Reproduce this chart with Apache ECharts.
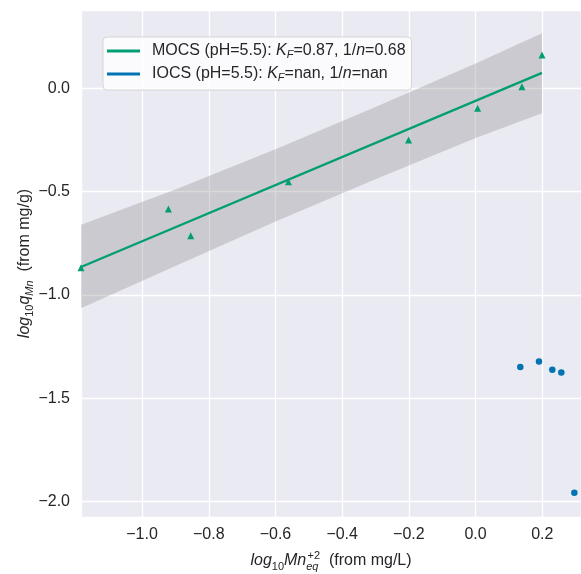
<!DOCTYPE html>
<html>
<head>
<meta charset="utf-8">
<script src="https://cdn.jsdelivr.net/npm/echarts@6/dist/echarts.min.js"></script>
<style>
  html, body { margin: 0; padding: 0; background: #ffffff; }
  #chart { width: 581px; height: 574px; }
</style>
</head>
<body>
<div id="chart"></div>
<script>
// Freundlich isotherm, log-log form: log10 q vs log10 Ce
var mocsX = [-1.183, -0.921, -0.854, -0.561, -0.201, 0.006, 0.139, 0.199];
var mocsY = [-0.868, -0.584, -0.714, -0.452, -0.250, -0.097, 0.008, 0.161];

var iocsX = [0.134, 0.190, 0.230, 0.257, 0.296];
var iocsY = [-1.349, -1.322, -1.362, -1.375, -1.958];

// Fit parameters shown in the legend
var mocsKF = 0.87;
var mocsInvN = 0.68;
var iocsKF = 'nan';
var iocsInvN = 'nan';

// 95% confidence band around the MOCS fit
var bandX = [-1.183, -0.9, -0.6, -0.3, 0.0, 0.199];
var bandUpper = [-0.661, -0.49, -0.295, -0.09, 0.12, 0.266];
var bandLower = [-1.064, -0.86, -0.645, -0.44, -0.24, -0.121];

var xMin = -1.183, xMax = 0.316;
var yMin = -2.075, yMax = 0.379;

var GREEN = '#029E73';
var BLUE = '#0173B2';
var TEXT = '#262626';
var FONT = '"Liberation Sans", Arial, sans-serif';

function pairs(xs, ys) {
  return xs.map(function (x, i) { return [x, ys[i]]; });
}

// Fitted line over the MOCS data range
var fitX0 = Math.min.apply(null, mocsX);
var fitX1 = Math.max.apply(null, mocsX);
function fitY(x) { return Math.log10(mocsKF) + mocsInvN * x; }
var fitLine = [[fitX0, fitY(fitX0)], [fitX1, fitY(fitX1)]];

function minusFmt(v) {
  return v.toFixed(1).replace('-', '\u2212');
}

var legendNames = {
  MOCS: '{t|MOCS (pH=5.5): }{i|K}{s|F}{t|=' + mocsKF + ', 1/}{i|n}{t|=' + mocsInvN + '}',
  IOCS: '{t|IOCS (pH=5.5): }{i|K}{s|F}{t|=' + iocsKF + ', 1/}{i|n}{t|=' + iocsInvN + '}'
};

var chart = echarts.init(document.getElementById('chart'), null, { renderer: 'canvas' });

chart.setOption({
  animation: false,
  backgroundColor: '#ffffff',
  grid: {
    left: 81, right: 0, top: 10, bottom: 57,
    outerBoundsMode: 'none',
    containLabel: false,
    show: true, backgroundColor: '#EAEAF2', borderWidth: 0
  },
  legend: {
    left: 103, top: 37,
    orient: 'vertical',
    padding: [6, 6, 7, 4],
    itemGap: 6,
    itemWidth: 33,
    itemHeight: 3,
    backgroundColor: 'rgba(255,255,255,0.8)',
    borderColor: '#d6d6d6',
    borderWidth: 1,
    borderRadius: 4,
    data: [{ name: 'MOCS', icon: 'rect' }, { name: 'IOCS', icon: 'rect' }],
    formatter: function (name) { return legendNames[name]; },
    textStyle: {
      color: TEXT,
      fontFamily: FONT,
      fontSize: 16,
      padding: [0, 0, 0, 7],
      rich: {
        t: { fontSize: 16, fontFamily: FONT, color: TEXT, lineHeight: 18 },
        i: { fontSize: 16, fontFamily: FONT, color: TEXT, fontStyle: 'italic', lineHeight: 18 },
        s: { fontSize: 11, fontFamily: FONT, color: TEXT, fontStyle: 'italic', verticalAlign: 'bottom', lineHeight: 12 }
      }
    }
  },
  xAxis: {
    type: 'value',
    min: xMin, max: xMax,
    splitNumber: 7,
    axisLine: { show: false },
    axisTick: { show: false },
    splitLine: { show: true, lineStyle: { color: '#ffffff', width: 1.3 } },
    axisLabel: {
      color: TEXT, fontFamily: FONT, fontSize: 16, margin: 10,
      showMinLabel: false, showMaxLabel: false,
      formatter: minusFmt
    },
    name: '{i|log}{s|10}{i|Mn}{se|eq}{sp|+2}{t|  (from mg/L)}',
    nameLocation: 'middle',
    nameMoveOverlap: false,
    nameGap: 33,
    nameTextStyle: {
      color: TEXT,
      rich: {
        t: { fontSize: 16, fontFamily: FONT, color: TEXT, lineHeight: 22 },
        i: { fontSize: 16, fontFamily: FONT, color: TEXT, fontStyle: 'italic', lineHeight: 22 },
        s: { fontSize: 11, fontFamily: FONT, color: TEXT, verticalAlign: 'bottom', lineHeight: 15 },
        se: { fontSize: 11, fontFamily: FONT, color: TEXT, fontStyle: 'italic', verticalAlign: 'bottom', lineHeight: 14 },
        sp: { fontSize: 11, fontFamily: FONT, color: TEXT, verticalAlign: 'top', lineHeight: 8, padding: [0, 0, 0, -11] }
      }
    }
  },
  yAxis: {
    type: 'value',
    min: yMin, max: yMax,
    splitNumber: 5,
    axisLine: { show: false },
    axisTick: { show: false },
    splitLine: { show: true, lineStyle: { color: '#ffffff', width: 1.3 } },
    axisLabel: {
      color: TEXT, fontFamily: FONT, fontSize: 16, margin: 11,
      showMinLabel: false, showMaxLabel: false,
      formatter: minusFmt
    },
    name: '{i|log}{s|10}{i|q}{se|Mn}{t|  (from mg/g)}',
    nameLocation: 'middle',
    nameMoveOverlap: false,
    nameRotate: 90,
    nameGap: 46,
    nameTextStyle: {
      color: TEXT,
      rich: {
        t: { fontSize: 16, fontFamily: FONT, color: TEXT, lineHeight: 20 },
        i: { fontSize: 16, fontFamily: FONT, color: TEXT, fontStyle: 'italic', lineHeight: 20 },
        s: { fontSize: 11, fontFamily: FONT, color: TEXT, verticalAlign: 'bottom', lineHeight: 13 },
        se: { fontSize: 11, fontFamily: FONT, color: TEXT, fontStyle: 'italic', verticalAlign: 'bottom', lineHeight: 13 }
      }
    }
  },
  series: [
    {
      name: 'MOCS band',
      type: 'custom',
      silent: true,
      clip: true,
      z: 1,
      data: [0],
      renderItem: function (params, api) {
        var pts = [];
        for (var i = 0; i < bandX.length; i++) pts.push(api.coord([bandX[i], bandUpper[i]]));
        for (var j = bandX.length - 1; j >= 0; j--) pts.push(api.coord([bandX[j], bandLower[j]]));
        return {
          type: 'polygon',
          shape: { points: pts },
          style: { fill: 'rgba(128,128,128,0.3)', stroke: null }
        };
      }
    },
    {
      name: 'MOCS',
      type: 'line',
      data: fitLine,
      showSymbol: false,
      symbol: 'none',
      color: GREEN,
      lineStyle: { color: GREEN, width: 2.3 },
      z: 3
    },
    {
      name: 'MOCS points',
      type: 'scatter',
      data: pairs(mocsX, mocsY),
      symbol: 'triangle',
      symbolSize: 7,
      itemStyle: { color: GREEN, opacity: 1 },
      z: 4
    },
    {
      name: 'IOCS',
      type: 'scatter',
      data: pairs(iocsX, iocsY),
      symbol: 'circle',
      symbolSize: 6.5,
      color: BLUE,
      itemStyle: { color: BLUE, opacity: 1 },
      z: 4
    }
  ]
});
</script>
</body>
</html>
